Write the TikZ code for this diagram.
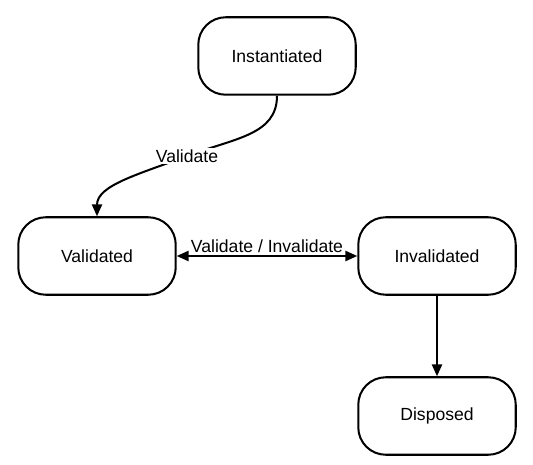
\documentclass[tikz,border=0pt]{standalone}
\usepackage{fontspec}
\setmainfont{Liberation Sans}
\usetikzlibrary{arrows.meta,positioning}

\begin{document}
\begin{tikzpicture}[
    x = 0.02cm, y = -0.02cm, % one unit is one pixel of the drawing
    > = {Triangle[length=6.8pt,width=5.8pt]}, % arrow head style
    line width = 1.15pt,
    font = \fontsize{10}{12}\selectfont
    ]
\tikzset{state/.style={
    draw = black,
    fill = white,
    rounded corners = 0.55cm,
    minimum width = 3.15cm,
    minimum height = 1.55cm
    }}
    \useasboundingbox (0,0) rectangle (533,465);

    \node[state] (I) at (277,56) {Instantiated};
    \node[state] (V) at (97,256) {Validated};
    \node[state] (N) at (437,256) {Invalidated};
    \node[state] (D) at (437,416) {Disposed};

    \draw [->] (I.south) .. controls (277,135) and (235,138) .. (187,156)
        node[fill=white, inner sep=1pt] {Validate}
        .. controls (140,174) and (97,185) .. (V.north);
    \path [<->] (V) edge node[above, inner sep=1pt, yshift=0.5pt] {Validate / Invalidate} (N);
    \path [->] (N) edge (D);
\end{tikzpicture}
\end{document}
